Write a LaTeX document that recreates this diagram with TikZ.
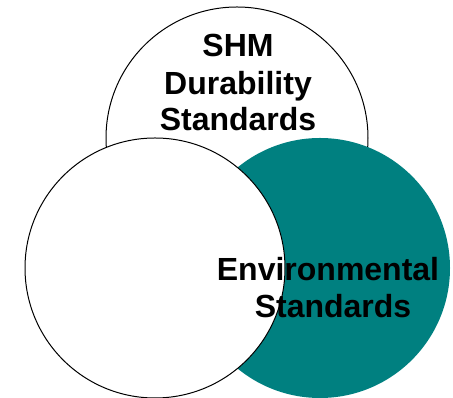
\documentclass[tikz,border=0pt]{standalone}
\usepackage{fontspec}
\setmainfont{Liberation Sans}
\definecolor{tealfill}{HTML}{008080}
\begin{document}
\begin{tikzpicture}[x=1pt,y=1pt,
  ring/.style={draw=black,line width=1pt,fill=white},
  label/.style={font=\bfseries\fontsize{32}{36}\selectfont,align=center,text=black,inner sep=0pt}]
\useasboundingbox (0,0) rectangle (453,398);
% top set
\draw[ring] (237,260) circle[radius=131];
% right set, filled
\fill[tealfill] (320,130) circle[radius=130];
% left set
\draw[ring] (155,130) circle[radius=130];
\node[label,anchor=base] (shm) at (238,341) {SHM};
\node[label,anchor=base] (dur) at (238,303) {Durability};
\node[label,anchor=base] (std) at (238,267) {Standards};
\node[label,anchor=base] (env) at (328,117) {Environmental};
\node[label,anchor=base] (envstd) at (333,80) {Standards};
\end{tikzpicture}
\end{document}
